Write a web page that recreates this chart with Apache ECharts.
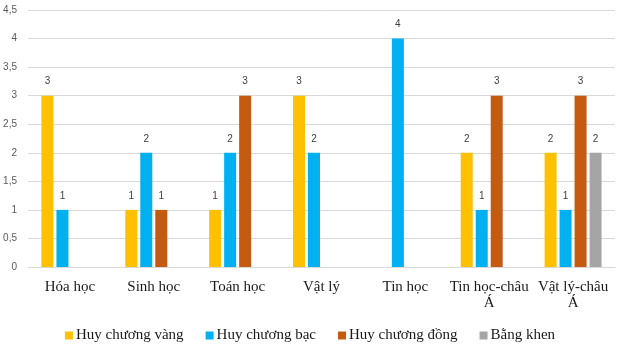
<!DOCTYPE html>
<html>
<head>
<meta charset="utf-8">
<script src="https://cdn.jsdelivr.net/npm/echarts@6/dist/echarts.min.js"></script>
<style>html,body{margin:0;padding:0;background:#fff;}#c{width:620px;height:346px;}</style>
</head>
<body>
<div id="c"></div>
<script>
const categories = ['Hóa học', 'Sinh học', 'Toán học', 'Vật lý', 'Tin học', 'Tin học-châu Á', 'Vật lý-châu Á'];
const seriesNames = ['Huy chương vàng', 'Huy chương bạc', 'Huy chương đồng', 'Bằng khen'];
const vang = [3, 1, 1, 3, null, 2, 2];
const bac = [1, 2, 2, 2, 4, 1, 1];
const dong = [null, 1, 3, null, null, 3, 3];
const bangKhen = [null, null, null, null, null, null, 2];
const yTicks = [0, 0.5, 1, 1.5, 2, 2.5, 3, 3.5, 4, 4.5];

const colors = ['#FFC000', '#00B0F0', '#C55A11', '#A5A5A5'];
const allData = [vang, bac, dong, bangKhen];
const chart = echarts.init(document.getElementById('c'));
chart.setOption({
  animation: false,
  backgroundColor: '#fff',
  color: colors,
  grid: { left: 28, right: 5, top: 10, bottom: 79 },
  legend: {
    data: seriesNames,
    top: 323,
    left: 'center',
    icon: 'rect',
    itemWidth: 8,
    itemHeight: 8,
    itemGap: 22,
    textStyle: { fontFamily: 'Liberation Serif', fontSize: 15, color: '#1a1a1a', padding: [0, 0, 0, -2] }
  },
  xAxis: {
    type: 'category',
    data: categories,
    axisTick: { show: false },
    axisLine: { lineStyle: { color: '#d9d9d9' } },
    axisLabel: {
      margin: 12,
      fontFamily: 'Liberation Serif',
      fontSize: 15,
      color: '#1a1a1a',
      lineHeight: 16,
      interval: 0,
      formatter: v => v.replace('châu ', 'châu\n')
    }
  },
  yAxis: {
    type: 'value',
    min: yTicks[0],
    max: yTicks[yTicks.length - 1],
    interval: 0.5,
    axisLine: { show: false },
    axisTick: { show: false },
    splitLine: { lineStyle: { color: '#d9d9d9' } },
    axisLabel: {
      margin: 11,
      fontFamily: 'Liberation Sans',
      fontSize: 10,
      color: '#595959',
      formatter: v => String(v).replace('.', ',')
    }
  },
  series: seriesNames.map((name, i) => ({
    name: name,
    type: 'bar',
    data: allData[i],
    barWidth: 12,
    barGap: '25%',
    label: {
      show: true,
      position: 'top',
      distance: 9,
      fontFamily: 'Liberation Sans',
      fontSize: 10,
      color: '#404040'
    }
  }))
});
</script>
</body>
</html>
